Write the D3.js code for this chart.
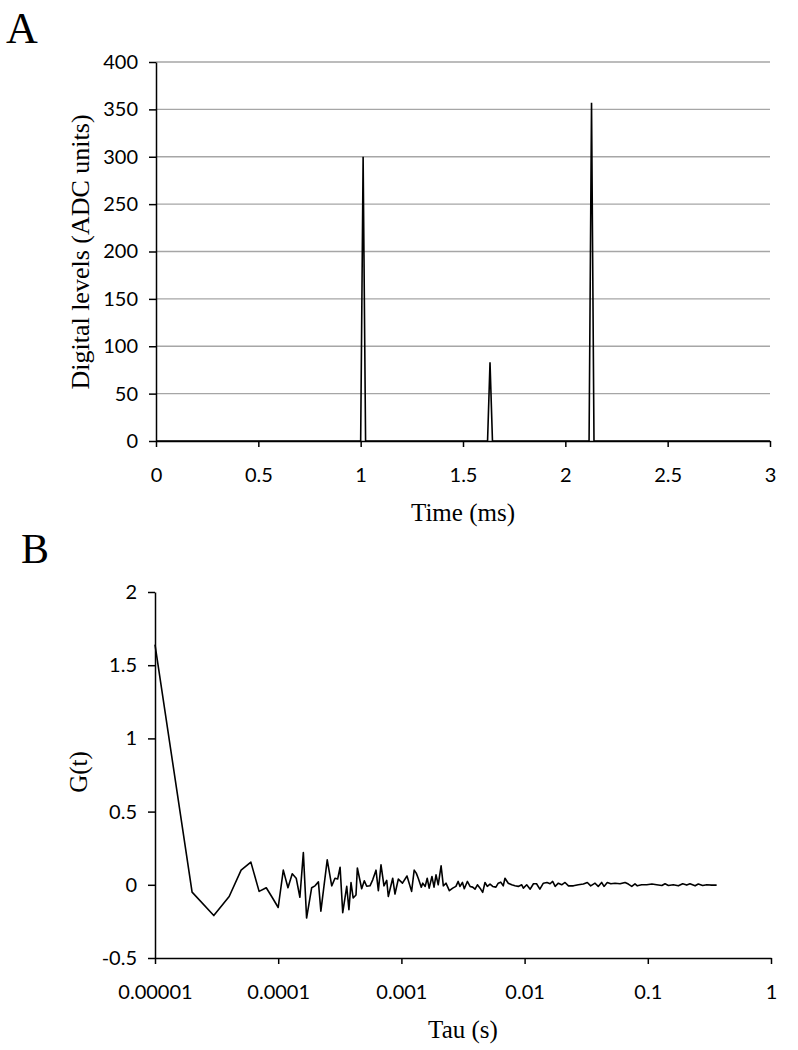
<!DOCTYPE html>
<html>
<head>
<meta charset="utf-8">
<script src="https://cdn.jsdelivr.net/npm/d3@7"></script>
<style>
  body { margin: 0; background: #fff; }
  .tick text { font-family: Lato, "Open Sans", sans-serif; font-size: 20px; fill: #000; }
  .axis path, .axis line { stroke: #000; stroke-width: 1.5px; }
  .grid line { stroke: #a6a6a6; stroke-width: 1.3px; }
  .title { font-family: "Liberation Serif", "Times New Roman", serif; font-size: 25px; fill: #000; }
  .panel { font-family: "Liberation Serif", "Times New Roman", serif; fill: #000; }
</style>
</head>
<body>
<script>
// ---- panel A: detector trace ----
var timeMs = [0, 1.0, 1.012, 1.024, 1.62, 1.632, 1.644, 2.116, 2.128, 2.14, 3];
var levels = [0, 0, 300, 0, 0, 83, 0, 0, 357, 0, 0];
var timeTicks = [0, 0.5, 1, 1.5, 2, 2.5, 3];
var levelTicks = [0, 50, 100, 150, 200, 250, 300, 350, 400];

// ---- panel B: autocorrelation ----
var tau = [
  1e-5, 2e-5, 3e-5, 4e-5, 5e-5, 6e-5, 7e-5, 8e-5, 9e-5, 1.0e-4,
  1.1e-4, 1.2e-4, 1.3e-4, 1.4e-4, 1.5e-4, 1.6e-4, 1.7e-4, 1.87e-4, 1.99e-4, 2.12e-4,
  2.22e-4, 2.50e-4, 2.72e-4, 2.89e-4, 3.04e-4, 3.18e-4, 3.34e-4, 3.60e-4, 3.75e-4, 3.90e-4,
  4.06e-4, 4.28e-4, 4.39e-4, 4.76e-4, 5.00e-4, 5.23e-4, 5.56e-4, 5.85e-4, 6.22e-4, 6.50e-4,
  6.83e-4, 7.22e-4, 7.60e-4, 7.83e-4, 8.50e-4, 8.87e-4, 9.44e-4, 1.02e-3, 1.11e-3, 1.21e-3,
  1.27e-3, 1.32e-3, 1.37e-3, 1.45e-3, 1.49e-3, 1.56e-3, 1.62e-3, 1.68e-3, 1.77e-3, 1.84e-3,
  1.91e-3, 1.99e-3, 2.10e-3, 2.19e-3, 2.30e-3, 2.45e-3, 2.61e-3, 2.77e-3, 2.89e-3, 2.99e-3,
  3.13e-3, 3.24e-3, 3.43e-3, 3.61e-3, 3.79e-3, 3.96e-3, 4.14e-3, 4.35e-3, 4.57e-3, 4.77e-3,
  4.98e-3, 5.24e-3, 5.51e-3, 5.85e-3, 6.11e-3, 6.40e-3, 6.71e-3, 6.93e-3, 7.37e-3, 7.86e-3,
  8.36e-3, 8.89e-3, 9.48e-3, 9.77e-3, 1.04e-2, 1.11e-2, 1.18e-2, 1.25e-2, 1.33e-2, 1.42e-2,
  1.52e-2, 1.61e-2, 1.69e-2, 1.77e-2, 1.88e-2, 2.00e-2, 2.13e-2, 2.27e-2, 2.49e-2, 2.73e-2,
  3.00e-2, 3.23e-2, 3.44e-2, 3.73e-2, 3.96e-2, 4.22e-2, 4.41e-2, 4.69e-2, 5.01e-2, 5.42e-2,
  5.95e-2, 6.54e-2, 6.95e-2, 7.41e-2, 7.87e-2, 8.22e-2, 8.92e-2, 9.80e-2, 0.108, 0.118,
  0.130, 0.138, 0.147, 0.161, 0.177, 0.192, 0.207, 0.220, 0.242, 0.257,
  0.279, 0.301, 0.330, 0.362
];
var gt = [
  1.64, -0.05, -0.21, -0.08, 0.10, 0.155, -0.045, -0.02, -0.09, -0.155,
  0.10, -0.02, 0.075, 0.045, -0.085, 0.22, -0.227, -0.02, -0.007, 0.02,
  -0.18, 0.17, -0.007, 0.045, 0.04, 0.12, -0.19, -0.01, -0.17, 0.015,
  -0.09, -0.07, 0.115, -0.027, 0.027, -0.01, -0.007, 0.034, 0.10, -0.04,
  0.136, -0.007, 0.03, -0.08, 0.045, -0.063, 0.039, 0.011, 0.06, -0.045,
  0.10, 0.08, 0.045, -0.016, 0.011, -0.011, 0.045, -0.023, 0.057, -0.016,
  0.068, 0, 0.13, -0.007, 0.011, -0.04, -0.023, -0.011, 0.023, -0.011,
  0.016, -0.027, 0.023, -0.011, -0.016, -0.03, 0, -0.023, -0.052, 0.016,
  -0.011, 0.005, -0.011, -0.016, 0.011, 0.018, -0.007, 0.045, 0.011, 0,
  -0.007, -0.011, 0, -0.023, 0, -0.03, 0.007, 0.007, -0.03, 0.011,
  0.016, 0.007, 0.023, -0.011, 0.011, 0, 0.016, -0.007, -0.007, 0,
  0.005, 0.016, -0.007, 0.011, -0.011, 0.016, -0.011, 0.016, 0.007, 0.011,
  0.007, 0.016, 0.005, -0.011, 0.007, -0.007, 0, 0, 0.005, 0,
  -0.005, 0.007, -0.005, 0, -0.007, 0.007, -0.002, 0.007, -0.007, 0.005,
  -0.005, 0, -0.002, -0.002
];
var tauTicks = [1e-5, 1e-4, 1e-3, 1e-2, 1e-1, 1];
var tauLabels = ["0.00001", "0.0001", "0.001", "0.01", "0.1", "1"];
var gTicks = [-0.5, 0, 0.5, 1, 1.5, 2];
var gLabels = ["-0.5", "0", "0.5", "1", "1.5", "2"];

var svg = d3.select("body").append("svg")
  .attr("width", 798)
  .attr("height", 1050);

// ================= A =================
var xA = d3.scaleLinear().domain([0, 3]).range([156, 770]);
var yA = d3.scaleLinear().domain([0, 400]).range([441, 62]);

svg.append("g")
  .attr("class", "grid")
  .selectAll("line")
  .data(levelTicks.filter(function (d) { return d > 0; }))
  .enter().append("line")
  .attr("x1", xA(0))
  .attr("x2", xA(3))
  .attr("y1", function (d) { return yA(d); })
  .attr("y2", function (d) { return yA(d); });

svg.append("g")
  .attr("class", "axis")
  .attr("transform", "translate(" + xA(0) + ",0)")
  .call(d3.axisLeft(yA).tickValues(levelTicks).tickSize(7).tickSizeOuter(0).tickPadding(11));

svg.append("g")
  .attr("class", "axis")
  .attr("transform", "translate(0," + yA(0) + ")")
  .call(d3.axisBottom(xA).tickValues(timeTicks).tickSize(6).tickSizeOuter(0).tickPadding(21)
    .tickFormat(d3.format("")));

var lineA = d3.line()
  .x(function (d, i) { return xA(timeMs[i]); })
  .y(function (d) { return yA(d); });

svg.append("path")
  .datum(levels)
  .attr("fill", "none")
  .attr("stroke", "#000")
  .attr("stroke-width", 1.6)
  .attr("d", lineA);

svg.append("text").attr("class", "panel")
  .attr("x", 6).attr("y", 43)
  .style("font-size", "44px")
  .text("A");

svg.append("text").attr("class", "title")
  .attr("text-anchor", "middle")
  .attr("x", 463).attr("y", 521)
  .text("Time (ms)");

svg.append("text").attr("class", "title")
  .attr("text-anchor", "middle")
  .style("font-size", "26px")
  .attr("transform", "translate(89,252) rotate(-90)")
  .text("Digital levels (ADC units)");

// ================= B =================
var xB = d3.scaleLog().domain([1e-5, 1]).range([155, 771]);
var yB = d3.scaleLinear().domain([-0.5, 2]).range([958, 592]);

svg.append("g")
  .attr("class", "axis")
  .attr("transform", "translate(" + xB(1e-5) + ",0)")
  .call(d3.axisLeft(yB).tickValues(gTicks).tickSize(7).tickSizeOuter(0).tickPadding(11)
    .tickFormat(function (d, i) { return gLabels[i]; }));

svg.append("g")
  .attr("class", "axis")
  .attr("transform", "translate(0," + yB(-0.5) + ")")
  .call(d3.axisBottom(xB).tickValues(tauTicks).tickSize(6).tickSizeOuter(0).tickPadding(21)
    .tickFormat(function (d, i) { return tauLabels[i]; }));

var lineB = d3.line()
  .x(function (d, i) { return xB(tau[i]); })
  .y(function (d) { return yB(d); });

svg.append("path")
  .datum(gt)
  .attr("fill", "none")
  .attr("stroke", "#000")
  .attr("stroke-width", 1.6)
  .attr("stroke-linejoin", "round")
  .attr("d", lineB);

svg.append("text").attr("class", "panel")
  .attr("x", 21).attr("y", 563)
  .style("font-size", "42px")
  .text("B");

svg.append("text").attr("class", "title")
  .attr("text-anchor", "middle")
  .attr("x", 463).attr("y", 1038)
  .text("Tau (s)");

svg.append("text").attr("class", "title")
  .attr("text-anchor", "middle")
  .attr("transform", "translate(87,772) rotate(-90)")
  .text("G(t)");
</script>
</body>
</html>
